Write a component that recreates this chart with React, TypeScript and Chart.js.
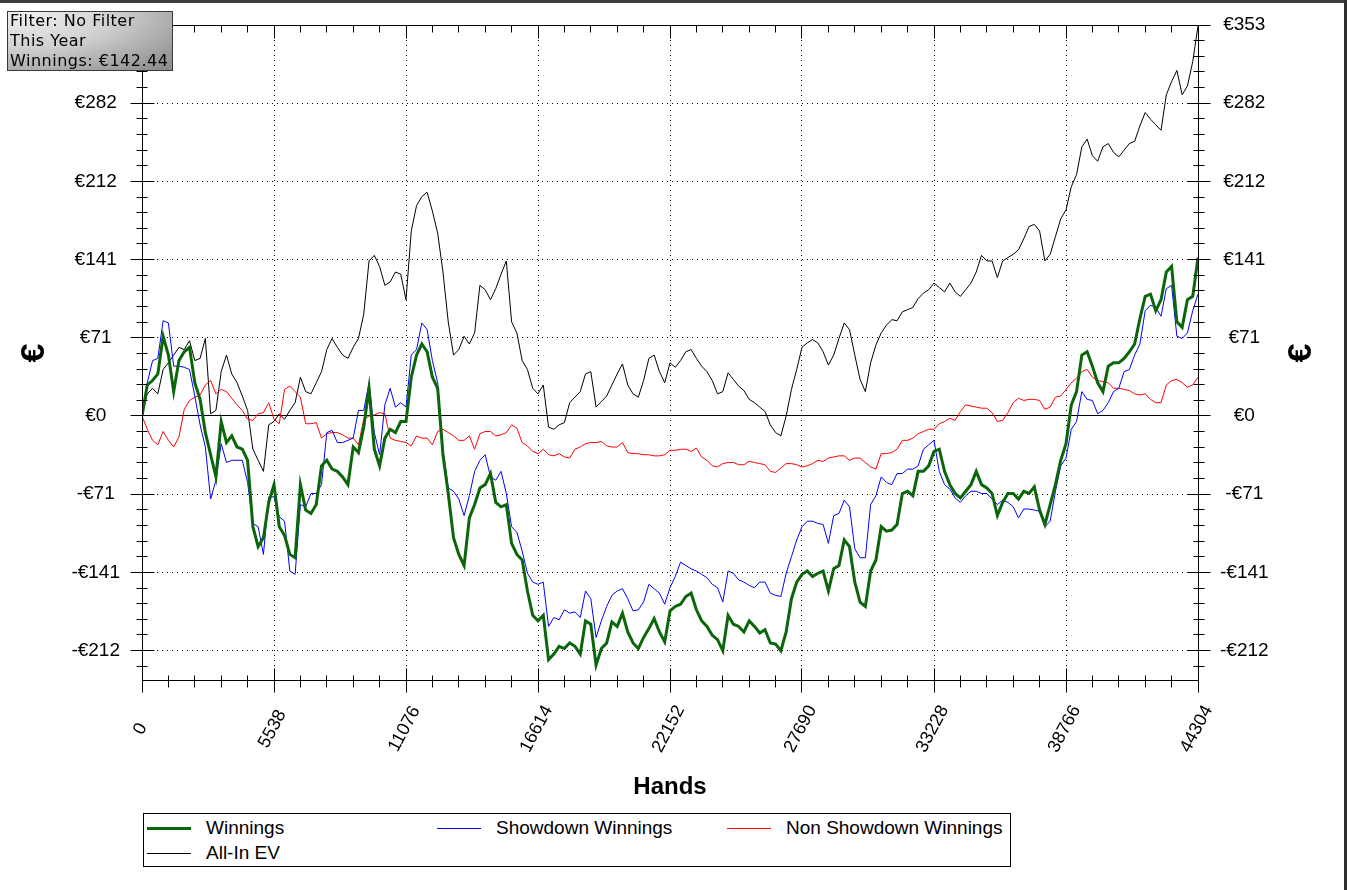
import React, { useEffect, useRef } from "react";
import { Chart, registerables } from "chart.js";

Chart.register(...registerables);

// ---------- data ----------
const TOTAL_HANDS = 44304;
const SAMPLE_STEP = 221.52; // hands between two samples
const X_MAJOR_STEP = 5538;
const X_MINOR_STEP = 1107.6;
const Y_MAJOR_STEP = 70.608;
const Y_MINOR_STEP = 14.1216;
const Y_MIN = -238.4;
const Y_MAX = 353.04;

const winnings = [
  0, 28, 32, 38, 72, 55, 22, 50, 58, 62, 30, 15, -15, -35, -55, -5, -24, -18, -28, -30,
  -40, -100, -118, -110, -78, -62, -100, -108, -125, -128, -62, -85, -88, -80, -45, -40, -48, -50, -55, -62,
  -28, -33, -10, 25, -30, -45, -20, -12, -15, -5, -5, 35, 55, 65, 58, 35, 25, -35, -70, -110,
  -125, -135, -92, -80, -65, -62, -52, -78, -82, -80, -115, -125, -130, -158, -180, -185, -180, -220, -215, -208,
  -210, -205, -208, -215, -185, -188, -225, -210, -205, -186, -190, -178, -195, -205, -210, -200, -192, -183, -195, -204,
  -176, -172, -170, -163, -160, -175, -185, -190, -198, -202, -212, -180, -188, -190, -195, -185, -190, -196, -193, -205,
  -206, -212, -195, -165, -150, -143, -140, -145, -142, -140, -158, -138, -135, -112, -118, -150, -168, -172, -140, -130,
  -100, -104, -103, -98, -70, -68, -72, -50, -50, -45, -32, -30, -50, -62, -70, -74, -68, -62, -50, -62,
  -65, -70, -90, -78, -70, -70, -75, -68, -70, -64, -85, -98, -80, -62, -40, -25, 10, 22, 55, 58,
  45, 30, 22, 45, 48, 48, 52, 58, 65, 88, 108, 110, 95, 105, 130, 135, 85, 80, 105, 108,
  143,
];

const showdown = [
  0, 30, 50, 52, 86, 84, 45, 45, 44, 42, 18, -8, -28, -75, -58, -25, -42, -40, -40, -40,
  -60, -97, -100, -125, -73, -73, -91, -95, -140, -143, -80, -82, -70, -70, -62, -15, -13, -24, -24, -22,
  -20, 5, 5, 30, -15, -35, 10, 25, 8, 12, 8, 55, 60, 84, 78, 50, 30, -30, -65, -68,
  -75, -90, -72, -50, -40, -35, -55, -58, -50, -70, -100, -105, -122, -142, -150, -152, -150, -190, -182, -184,
  -175, -178, -177, -182, -158, -165, -200, -185, -172, -162, -158, -156, -165, -176, -175, -168, -152, -156, -160, -170,
  -155, -145, -132, -135, -138, -140, -143, -146, -152, -155, -168, -140, -142, -148, -150, -153, -155, -150, -150, -160,
  -162, -163, -142, -127, -112, -100, -95, -95, -97, -98, -115, -90, -88, -76, -82, -120, -128, -128, -80, -72,
  -55, -60, -62, -52, -52, -48, -48, -45, -30, -26, -22, -50, -62, -66, -74, -78, -72, -68, -68, -70,
  -70, -75, -80, -76, -78, -82, -92, -84, -84, -85, -86, -100, -95, -68, -45, -38, -12, -5, 22, 15,
  14, 2, 5, 12, 22, 25, 40, 42, 55, 65, 95, 100, 98, 90, 115, 118, 72, 70, 75, 95,
  110,
];

const nonShowdown = [
  0, -12, -22, -26, -14, -22, -28, -19, 6, 14, 17, 19, 28, 32, 20, 24, 22, 16, 10, 5,
  -3, -4, 2, 3, 12, -3, -7, 24, 27, 22, 17, -7, -7, -6, -20, -16, -15, -15, -17, -20,
  -20, -26, -3, 0, 1, 3, 2, -20, -22, -23, -24, -27, -18, -20, -20, -26, -14, -12, -15, -18,
  -22, -22, -18, -30, -16, -14, -14, -18, -17, -15, -8, -11, -24, -27, -32, -34, -30, -35, -36, -34,
  -37, -38, -30, -28, -25, -24, -24, -23, -27, -28, -28, -24, -33, -34, -34, -35, -35, -36, -36, -35,
  -31, -31, -30, -30, -32, -29, -37, -40, -45, -46, -43, -42, -42, -44, -44, -41, -42, -43, -44, -50,
  -51, -47, -43, -43, -44, -46, -45, -43, -40, -41, -38, -37, -36, -36, -40, -38, -38, -42, -46, -48,
  -34, -34, -33, -30, -22, -22, -20, -16, -14, -12, -12, -7, -5, -2, -4, 4, 10, 9, 8, 7,
  7, 3, -5, -4, 3, 12, 16, 14, 15, 15, 14, 6, 8, 17, 18, 24, 30, 34, 40, 42,
  35, 32, 31, 30, 25, 25, 24, 23, 20, 19, 20, 15, 12, 12, 28, 32, 33, 30, 26, 28,
  35,
];

const allInEV = [
  0, 20, 25, 20, 42, 48, 55, 62, 60, 68, 50, 52, 70, 2, 5, 40, 55, 38, 30, 18,
  5, -30, -40, -50, -8, -5, 2, -3, 5, 12, 35, 22, 20, 30, 40, 60, 70, 62, 55, 52,
  62, 70, 92, 140, 145, 135, 118, 121, 130, 128, 105, 167, 190, 198, 202, 185, 165, 130, 85, 55,
  60, 72, 65, 75, 118, 114, 105, 115, 128, 140, 85, 75, 50, 42, 25, 20, 28, -10, -12, -8,
  -6, 12, 17, 22, 38, 40, 8, 13, 18, 28, 38, 47, 28, 20, 17, 32, 52, 55, 40, 30,
  48, 44, 50, 58, 60, 52, 45, 40, 32, 20, 22, 39, 33, 27, 23, 15, 12, 8, 4, -8,
  -15, -18, 0, 24, 42, 62, 66, 69, 66, 58, 46, 55, 70, 84, 78, 55, 33, 22, 48, 64,
  75, 82, 87, 86, 94, 96, 98, 106, 111, 114, 120, 116, 112, 120, 112, 108, 114, 120, 130, 145,
  140, 140, 125, 140, 143, 146, 150, 160, 171, 173, 167, 140, 146, 162, 178, 186, 207, 218, 243, 250,
  235, 230, 243, 246, 238, 234, 240, 246, 248, 262, 274, 268, 263, 258, 290, 302, 312, 290, 298, 320,
  352,
];

const seriesLabels = ["Winnings", "Showdown Winnings", "Non Showdown Winnings", "All-In EV"];
const seriesColors = ["#0b660b", "#0000ff", "#ff0000", "#000000"];
const seriesWidths = [3, 1, 1, 1];
const legendRows = [0, 0, 0, 1];
const legendCols = [0, 1, 2, 0];

const infoLines = ["Filter: No Filter", "This Year", "Winnings: €142.44"];
const xAxisTitle = "Hands";
const yAxisTitle = "€";

// ---------- helpers ----------
const FONT = '"Liberation Sans", Arial, sans-serif';

function isMultiple(v: number | undefined, step: number) {
  if (v === undefined || v === null) return false;
  const r = v / step;
  return Math.abs(r - Math.round(r)) < 1e-6;
}
function euro(v: number) {
  const r = Math.round(v);
  return r < 0 ? `-€${-r}` : `€${r}`;
}
function xTickValues() {
  const out: number[] = [];
  const n = Math.round(TOTAL_HANDS / X_MINOR_STEP);
  for (let k = 0; k <= n; k++) out.push(k * X_MINOR_STEP);
  return out;
}
function yTickValues() {
  const out: number[] = [];
  const k0 = Math.ceil(Y_MIN / Y_MINOR_STEP - 1e-9);
  const k1 = Math.floor(Y_MAX / Y_MINOR_STEP + 1e-9);
  for (let k = k0; k <= k1; k++) out.push(k * Y_MINOR_STEP);
  return out;
}
const al = (p: number) => Math.round(p - 0.5) + 0.5;

const decorPlugin = {
  id: "decor",
  afterDatasetsDraw(chart: any) {
    const { ctx, chartArea: a, scales } = chart;
    const xs = scales.x;
    const ys = scales.y;
    const L = a.left + 0.5;
    const R = a.right + 0.5;
    const T = a.top + 0.5;
    const B = a.bottom + 0.5;
    ctx.save();
    ctx.strokeStyle = "#000";
    ctx.lineWidth = 1;
    ctx.setLineDash([]);
    ctx.beginPath();
    ctx.rect(L, T, R - L, B - T);
    ctx.stroke();

    ctx.beginPath();
    for (const t of xs.ticks) {
      const px = al(xs.getPixelForValue(t.value));
      const major = isMultiple(t.value, X_MAJOR_STEP);
      ctx.moveTo(px, B + (major ? -12 : -5));
      ctx.lineTo(px, B + (major ? 12 : 7));
      ctx.moveTo(px, T);
      ctx.lineTo(px, T + (major ? 13 : 7));
    }
    for (const t of ys.ticks) {
      const py = al(ys.getPixelForValue(t.value));
      const major = isMultiple(t.value, Y_MAJOR_STEP);
      ctx.moveTo(L - (major ? 12 : 6), py);
      ctx.lineTo(L + (major ? 12 : 5), py);
      ctx.moveTo(R - (major ? 11 : 5), py);
      ctx.lineTo(R + (major ? 12 : 6), py);
    }
    ctx.stroke();

    // rotated x labels
    ctx.fillStyle = "#000";
    ctx.font = `18px ${FONT}`;
    ctx.textAlign = "center";
    ctx.textBaseline = "middle";
    for (const t of xs.ticks) {
      if (!isMultiple(t.value, X_MAJOR_STEP)) continue;
      const px = xs.getPixelForValue(t.value);
      ctx.save();
      ctx.translate(px - 1.5, 729);
      ctx.rotate((-62 * Math.PI) / 180);
      ctx.fillText(String(Math.round(t.value)), 0, 0);
      ctx.restore();
    }

    // axis titles
    ctx.font = `bold 24px ${FONT}`;
    ctx.fillText(xAxisTitle, (a.left + a.right) / 2, 787);
    ctx.font = `bold 34px ${FONT}`;
    for (const cx of [35, 1302]) {
      ctx.save();
      ctx.translate(cx, 353);
      ctx.rotate(-Math.PI / 2);
      ctx.fillText(yAxisTitle, 0, 0);
      ctx.restore();
    }
    ctx.restore();
  },
};

export default function App() {
  const canvasRef = useRef<HTMLCanvasElement>(null);

  useEffect(() => {
    const canvas = canvasRef.current;
    if (!canvas) return;
    const seriesValues = [winnings, showdown, nonShowdown, allInEV];
    const yTicksCfg = {
      autoSkip: false,
      crossAlign: "center" as const,
      padding: 22,
      color: "#000",
      font: { family: FONT, size: 19 },
      callback: (v: any) => (isMultiple(Number(v), Y_MAJOR_STEP) ? euro(Number(v)) : ""),
    };
    const chart = new Chart(canvas, {
      type: "line",
      data: {
        datasets: seriesValues.map((vals, s) => ({
          label: seriesLabels[s],
          data: vals.map((v, i) => ({ x: i * SAMPLE_STEP, y: v })),
          borderColor: seriesColors[s],
          backgroundColor: seriesColors[s],
          borderWidth: seriesWidths[s],
          pointRadius: 0,
          tension: 0,
          fill: false,
          yAxisID: "y",
        })),
      },
      options: {
        responsive: false,
        animation: false,
        events: [],
        layout: { padding: { top: 25, left: 0, right: 0, bottom: 0 } },
        plugins: { legend: { display: false }, tooltip: { enabled: false } },
        scales: {
          x: {
            type: "linear",
            position: "bottom",
            min: 0,
            max: TOTAL_HANDS,
            afterBuildTicks: (scale: any) => {
              scale.ticks = xTickValues().map((v) => ({ value: v }));
            },
            afterFit: (scale: any) => {
              scale.height = 210;
              scale.paddingLeft = 0;
              scale.paddingRight = 0;
            },
            ticks: { display: false },
            grid: {
              drawTicks: false,
              lineWidth: 1,
              color: (c: any) => (isMultiple(c.tick?.value, X_MAJOR_STEP) ? "#000" : "rgba(0,0,0,0)"),
            },
            border: { display: false, dash: [1, 4] },
          },
          y: {
            type: "linear",
            position: "left",
            min: Y_MIN,
            max: Y_MAX,
            afterBuildTicks: (scale: any) => {
              scale.ticks = yTickValues().map((v) => ({ value: v }));
            },
            afterFit: (scale: any) => {
              scale.width = 142;
              scale.paddingTop = 0;
              scale.paddingBottom = 0;
            },
            ticks: yTicksCfg,
            grid: {
              drawTicks: false,
              lineWidth: 1,
              color: (c: any) => (isMultiple(c.tick?.value, Y_MAJOR_STEP) ? "#000" : "rgba(0,0,0,0)"),
            },
            border: {
              display: false,
              dash: (c: any) => (c.tick && Math.abs(c.tick.value) < 1e-6 ? [] : [1, 4]),
            },
          },
          y2: {
            type: "linear",
            position: "right",
            min: Y_MIN,
            max: Y_MAX,
            afterBuildTicks: (scale: any) => {
              scale.ticks = yTickValues().map((v) => ({ value: v }));
            },
            afterFit: (scale: any) => {
              scale.width = 149;
              scale.paddingTop = 0;
              scale.paddingBottom = 0;
            },
            ticks: yTicksCfg,
            grid: { drawOnChartArea: false, drawTicks: false },
            border: { display: false },
          },
        },
      } as any,
      plugins: [decorPlugin],
    });
    return () => chart.destroy();
  }, []);

  return (
    <div
      style={{
        position: "absolute",
        left: 0,
        top: 0,
        width: 1347,
        height: 890,
        overflow: "hidden",
        background: "#ffffff",
      }}
    >
      <canvas ref={canvasRef} width={1347} height={890} style={{ display: "block" }} />
      <div style={{ position: "absolute", left: 0, top: 0, width: 1347, height: 3, background: "#3f3f3f" }} />
      <div style={{ position: "absolute", left: 1344, top: 0, width: 3, height: 890, background: "#2f2f2f" }} />
      <div
        style={{
          position: "absolute",
          left: 7,
          top: 11,
          width: 166,
          height: 60,
          boxSizing: "border-box",
          border: "1px solid #3a3a3a",
          background: "radial-gradient(ellipse at 8% 0%, #f2f2f2 0%, #cfcfcf 45%, #9a9a9a 85%, #8a8a8a 100%)",
          font: '16px "DejaVu Sans", Verdana, sans-serif',
          letterSpacing: "0.5px",
          lineHeight: "20px",
          paddingLeft: 2,
          color: "#000",
          whiteSpace: "nowrap",
        }}
      >
        {infoLines.map((l, i) => (
          <div key={i} style={{ position: "relative", top: -1 }}>
            {l}
          </div>
        ))}
      </div>
      <div
        style={{
          position: "absolute",
          left: 143,
          top: 813,
          width: 868,
          height: 54,
          boxSizing: "border-box",
          border: "1px solid #000",
          background: "#fff",
          font: `19px ${FONT}`,
          color: "#000",
        }}
      >
        {seriesLabels.map((lab, s) => {
          const cx = legendCols[s] * 290;
          const cy = legendRows[s] * 25 + 14;
          return (
            <React.Fragment key={s}>
              <div
                style={{
                  position: "absolute",
                  left: cx + 3,
                  top: cy - Math.floor(seriesWidths[s] / 2),
                  width: 44,
                  height: seriesWidths[s],
                  background: seriesColors[s],
                }}
              />
              <div
                style={{
                  position: "absolute",
                  left: cx + 62,
                  top: cy - 12,
                  height: 24,
                  lineHeight: "24px",
                  whiteSpace: "nowrap",
                }}
              >
                {lab}
              </div>
            </React.Fragment>
          );
        })}
      </div>
    </div>
  );
}
